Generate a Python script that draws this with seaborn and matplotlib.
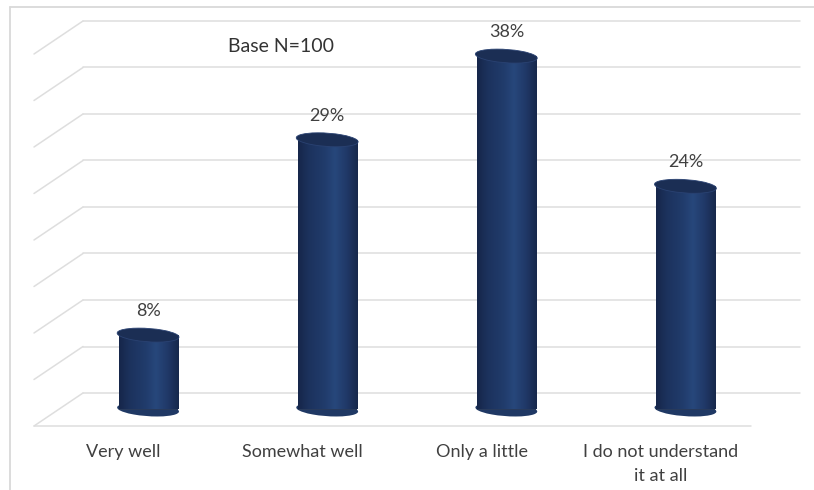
import numpy as np
import pandas as pd
import matplotlib
matplotlib.use("Agg")
import matplotlib.pyplot as plt
import seaborn as sns
from matplotlib.patches import Ellipse
from matplotlib.lines import Line2D
from matplotlib.colors import LinearSegmentedColormap
from matplotlib.transforms import offset_copy

# ---- data ----
categories = ["Very well", "Somewhat well", "Only a little", "I do not understand\nit at all"]
values = [8, 29, 38, 24]
value_labels = ["8%", "29%", "38%", "24%"]
base_note = "Base N=100"

sns.set_theme(style="white")
plt.rcParams["font.family"] = ["Lato", "DejaVu Sans"]

W, H, DPI = 814, 490, 100
fig = plt.figure(figsize=(W / DPI, H / DPI), dpi=DPI)
fig.patch.set_facecolor("white")

# plotting plane sits at mid-depth of the 3D box
ax = fig.add_axes([58.5 / W, (H - 409.5) / H, 716.5 / W, 372 / H])
ax.set_facecolor("none")

df = pd.DataFrame({"category": categories, "value": values})
BAR_W = 0.33
sns.barplot(data=df, x="category", y="value", width=BAR_W, color="#1f3864",
            ax=ax, zorder=3)

ax.set_xlim(-0.5, 3.5)
ax.set_ylim(0, 40)
ax.set_xticks([])
ax.set_yticks([])
ax.set_xlabel("")
ax.set_ylabel("")
for s in ax.spines.values():
    s.set_visible(False)

# depth offsets (pixels) from mid plane to the back wall / front edge
DX, DY = 24.5, 16.5
back = offset_copy(ax.transData, fig=fig, x=DX, y=DY, units="dots")
front = offset_copy(ax.transData, fig=fig, x=-DX, y=-DY, units="dots")
grid_c = "#dedede"
levels = np.arange(0, 45, 5)
for lv in levels:
    ax.add_line(Line2D([-0.5, 3.5], [lv, lv], transform=back, color=grid_c,
                       lw=1.1, zorder=1, clip_on=False))
    # side wall slant
    p0 = front.transform((-0.5, lv))
    p1 = back.transform((-0.5, lv))
    fig.add_artist(Line2D([p0[0] / W, p1[0] / W], [p0[1] / H, p1[1] / H],
                          transform=fig.transFigure, color=grid_c, lw=1.1, zorder=1))
# floor front edge
ax.add_line(Line2D([-0.5, 3.5], [0, 0], transform=front, color=grid_c,
                   lw=1.1, zorder=1, clip_on=False))

# cylinder shading
cyl_cmap = LinearSegmentedColormap.from_list(
    "cyl", [(0.0, "#16264a"), (0.18, "#1c325d"), (0.45, "#213c6c"),
            (0.62, "#27477b"), (0.82, "#203867"), (1.0, "#17284b")])
grad = np.linspace(0, 1, 256)[None, :]

# vertical pixel size of one data unit
px_per_unit = (ax.transData.transform((0, 1))[1] - ax.transData.transform((0, 0))[1])
ell_h = 14 / px_per_unit
tilt = 4

bars = [p for p in ax.patches]
for i, (bar, v) in enumerate(zip(bars, values)):
    x0 = bar.get_x()
    w = bar.get_width()
    xc = x0 + w / 2
    bar.set_edgecolor("none")
    # bottom cap
    bot = Ellipse((xc, 0), w, ell_h, angle=tilt, facecolor="#1f3864",
                  edgecolor="none", zorder=2.9, clip_on=False)
    ax.add_patch(bot)
    im = ax.imshow(grad, cmap=cyl_cmap, aspect="auto", zorder=2.95,
                   extent=[x0, x0 + w, -ell_h, v], interpolation="bilinear")
    im.set_clip_path(bot)
    im2 = ax.imshow(grad, cmap=cyl_cmap, aspect="auto", zorder=3.1,
                    extent=[x0, x0 + w, -ell_h, v], interpolation="bilinear")
    im2.set_clip_path(bar)
    # top cap
    ax.add_patch(Ellipse((xc, v), w, ell_h, angle=tilt, facecolor="#1b2e54",
                         edgecolor="#2a4272", lw=0.6, zorder=3.5, clip_on=False))
    # value label
    lab_t = offset_copy(ax.transData, fig=fig, x=0, y=24, units="dots")
    ax.text(xc, v, value_labels[i], transform=lab_t, ha="center", va="center",
            fontsize=13, color="#404040", zorder=5)
    # category label at the front edge
    cat_t = offset_copy(ax.transData, fig=fig, x=-DX, y=-34, units="dots")
    ax.text(xc, 0, categories[i], transform=cat_t, ha="center", va="top",
            fontsize=13, color="#404040", linespacing=1.65, zorder=5)

ax.set_xlim(-0.5, 3.5)
ax.set_ylim(0, 40)

ax.text(0.3105, 0.9745, base_note, transform=ax.transAxes, ha="center",
        va="center", fontsize=14, color="#333333")

# outer frame
frame_c = "#d9d9d9"
fig.add_artist(Line2D([10 / W, 1], [1 - 7 / H, 1 - 7 / H], transform=fig.transFigure,
                      color=frame_c, lw=1.3))
fig.add_artist(Line2D([10 / W, 10 / W], [0, 1 - 7 / H], transform=fig.transFigure,
                      color=frame_c, lw=1.3))

fig.savefig("out.png", dpi=DPI, facecolor="white")
